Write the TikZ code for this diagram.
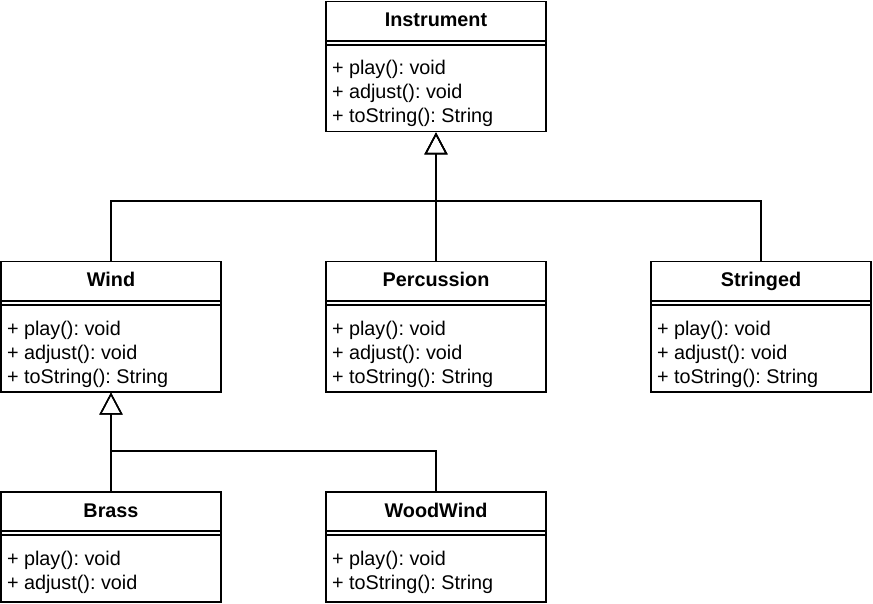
\documentclass[tikz,border=0pt]{standalone}
\usepackage{fontspec}
\setmainfont{Liberation Sans}
\usepackage{tikz}
\usetikzlibrary{arrows.meta,calc}
\frenchspacing
\tikzset{every picture/.style={line width=1.5pt, x=1pt, y=-1pt}}
\tikzset{every node/.style={font=\fontsize{19.8pt}{24pt}\selectfont}}
\tikzset{classbox/.style={draw, rectangle, inner sep=0pt, minimum width=220pt, anchor=north}}
\tikzset{classname/.style={font=\fontsize{19.8pt}{24pt}\selectfont\bfseries, anchor=base, inner sep=0pt}}
\tikzset{member/.style={anchor=base west, inner sep=0pt}}
\tikzset{extends/.style={-{Triangle[open, length=22pt, width=23pt]}}}

\begin{document}
\begin{tikzpicture}
\useasboundingbox (0,0) rectangle (873,604);
% class boxes
\foreach \name/\title/\x/\y/\h in {instrument/Instrument/436/1/130, wind/Wind/111/261/130,
    percussion/Percussion/436/261/130, stringed/Stringed/761/261/130,
    brass/Brass/111/491/110, woodwind/WoodWind/436/491/110} {
    \pgfmathsetmacro{\base}{\y + 26}
    \node[classbox, minimum height=\h pt] (\name) at (\x,\y) {};
    \node[classname] (\name-title) at (\x,\base) {\title};
    \draw ($(\name.north west)+(0,40)$) -- ($(\name.north east)+(0,40)$);
    \draw ($(\name.north west)+(0,44)$) -- ($(\name.north east)+(0,44)$);
}
% operations
\foreach \name in {instrument, wind, percussion, stringed} {
    \foreach \i/\op in {0/play(): void, 1/adjust(): void, 2/toString(): String} {
        \pgfmathsetmacro{\dy}{74 + 24*\i}
        \node[member] (\name-op\i) at ($(\name.north west)+(6,\dy)$) {+ \op};
    }
}
\node[member] (brass-op0) at ($(brass.north west)+(6,74)$) {+ play(): void};
\node[member] (brass-op1) at ($(brass.north west)+(6,98)$) {+ adjust(): void};
\node[member] (woodwind-op0) at ($(woodwind.north west)+(6,74)$) {+ play(): void};
\node[member] (woodwind-op1) at ($(woodwind.north west)+(6,98)$) {+ toString(): String};
% inheritance
\coordinate (split1) at (436,201);
\coordinate (split2) at (111,451);
\draw[extends] (wind.north) |- (split1) -- (instrument.south);
\draw[extends] (percussion.north) -- (instrument.south);
\draw[extends] (stringed.north) |- (split1) -- (instrument.south);
\draw[extends] (brass.north) -- (wind.south);
\draw[extends] (woodwind.north) |- (split2) -- (wind.south);
\end{tikzpicture}
\end{document}
